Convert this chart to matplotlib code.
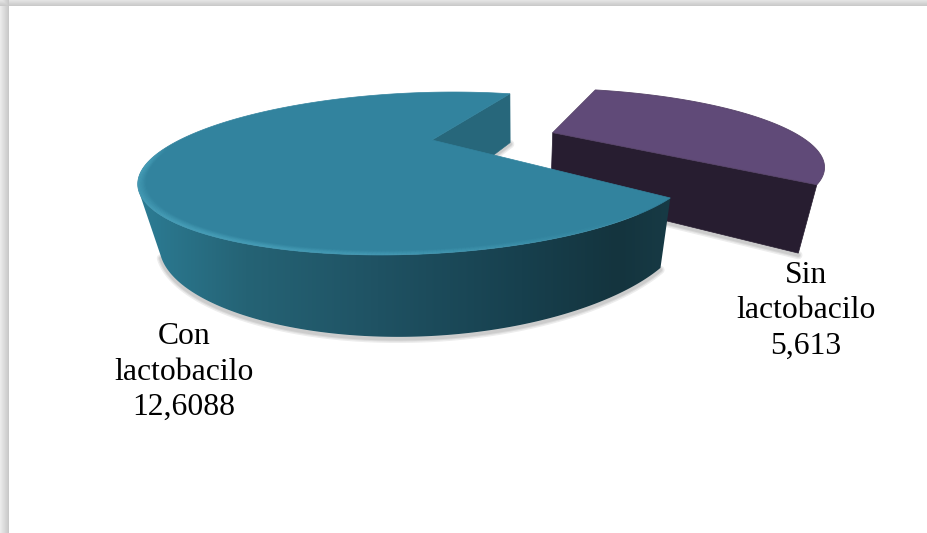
import numpy as np
import matplotlib
matplotlib.use('Agg')
import matplotlib.pyplot as plt
from matplotlib.collections import LineCollection
from matplotlib.colors import LinearSegmentedColormap, to_rgba
from matplotlib.patches import Polygon

plt.rcParams['font.family'] = ['Liberation Serif', 'DejaVu Serif']

# Data
categories = ['Con\nlactobacilo', 'Sin\nlactobacilo']
values = [12.6088, 5.613]
value_labels = ['12,6088', '5,613']

W, H = 928, 533

# 3D view of the pie: unit disc (u, v) -> pixels
CX, CY = 432.0, 140.0
A, S, B, K = 252.5, 30.2, 67.7, 0.411
VP = np.array([515.0, 1300.0])  # vertical edges converge here
DROP0, DROP1 = 24.0, 34.5
START_ANGLE = 71.6
EXPLODE = 0.50
EXPLODE_TILT = -3.0


def project(u, v):
    s = 1.0 / (1.0 + K * v)
    return np.column_stack((CX + (A * u + S * v) * s, CY - B * v * s))


def project_base(u, v, extra=0.0):
    top = project(u, v)
    s = 1.0 / (1.0 + K * v)
    d = VP - top
    d = d / np.linalg.norm(d, axis=1, keepdims=True)
    return top + d * (DROP0 + extra + DROP1 * s)[:, None]


def disc(t0, t1, off=(0.0, 0.0), n=200, r=1.0):
    t = np.radians(np.linspace(t0, t1, n))
    return r * np.cos(t) + off[0], r * np.sin(t) + off[1]


def soft_shadow(ax, pts, dy=2.0, dark=0.07):
    # stack of faint strokes, widest first
    for lw in [6, 4, 2.5]:
        ax.plot(pts[:, 0], pts[:, 1] + dy, color='black', alpha=dark, lw=lw,
                solid_capstyle='round', zorder=2)


def rim_highlight(ax, r, color, alpha, lw):
    # bevel running round the near rim, fading in at the left and out to the right
    u, v = disc(186.0, START_ANGLE + sweep_con - 8.0, n=220, r=r)
    pts = project(u, v)
    segs = np.stack((pts[:-1], pts[1:]), axis=1)
    x = np.linspace(0, 1, len(segs))
    rgba = np.tile(to_rgba(color), (len(segs), 1))
    rgba[:, 3] = alpha * np.clip(x / 0.1, 0, 1) * np.clip((1.0 - x) / 0.6, 0, 1)
    ax.add_collection(LineCollection(segs, colors=rgba, linewidths=lw, zorder=8, capstyle='butt'))


fig = plt.figure(figsize=(W / 100, H / 100), dpi=100)
ax = fig.add_axes([0, 0, 1, 1])

# Page shadow along the top and left of the white card
bg = np.ones((H, W))
for y in range(6):
    bg[y, :] = 0.89 - 0.02 * y
for x in range(9):
    bg[:, x] = np.minimum(bg[:, x], 0.92 - 0.017 * x)
ax.imshow(bg, cmap='gray', vmin=0, vmax=1, extent=(0, W, H, 0), aspect='auto', zorder=0,
          interpolation='nearest')

total = sum(values)
sweep_con = 360.0 * values[0] / total
sweep_sin = 360.0 * values[1] / total

# Sin lactobacilo slice, pulled out along its middle angle
mid = np.radians(START_ANGLE - sweep_sin / 2.0 + EXPLODE_TILT)
off = (EXPLODE * np.cos(mid), EXPLODE * np.sin(mid))
u, v = disc(START_ANGLE - sweep_sin, START_ANGLE, off)
apex_u, apex_v = np.array([off[0]]), np.array([off[1]])
rim = project(u, v)
apex = project(apex_u, apex_v)
front_top = np.vstack((apex, rim[:1]))
front_base = np.vstack((project_base(apex_u, apex_v, 3.0), project_base(u[:1], v[:1], 3.0)))
soft_shadow(ax, front_base)
ax.add_patch(Polygon(np.vstack((front_top, front_base[::-1])), closed=True, fc='#271d30',
                     ec='#271d30', lw=0.5, zorder=3))
ax.add_patch(Polygon(np.vstack((apex, rim)), closed=True, fc='#604a78', ec='#574369', lw=0.6,
                     zorder=4))

# Con lactobacilo slice
u, v = disc(START_ANGLE, START_ANGLE + sweep_con, n=500)
apex_u, apex_v = np.array([0.0]), np.array([0.0])
rim = project(u, v)
apex = project(apex_u, apex_v)

# cut wall visible in the notch
wall_base = np.vstack((project_base(u[:1], v[:1]), project_base(apex_u, apex_v)))
soft_shadow(ax, wall_base, dy=1.5)
ax.add_patch(Polygon(np.vstack((apex, rim[:1], wall_base)), closed=True, fc='#27677b',
                     ec='#27677b', lw=0.4, zorder=5))

# outer wall with a left to right shading
u_side, v_side = disc(215.0, START_ANGLE + sweep_con, n=300)
rim_side = project(u_side, v_side)
base_side = project_base(u_side, v_side)
soft_shadow(ax, base_side)
side_cmap = LinearSegmentedColormap.from_list('side', [
    (0.0, '#2c7c94'), (0.2, '#256375'), (0.45, '#1f5263'), (0.72, '#17404e'),
    (0.9, '#14343e'), (1.0, '#173a45')])
side_poly = Polygon(np.vstack((rim_side, base_side[::-1])), closed=True, fc='none', ec='none',
                    zorder=6)
ax.add_patch(side_poly)
x_span = (rim_side[:, 0].min(), rim_side[:, 0].max())
grad = ax.imshow(np.linspace(0, 1, 256)[None, :], cmap=side_cmap, aspect='auto',
                 extent=(x_span[0], x_span[1], 345, 170), zorder=6, interpolation='bilinear')
grad.set_clip_path(side_poly)

# top face
ax.add_patch(Polygon(np.vstack((apex, rim)), closed=True, fc='#32839e', ec='#32839e', lw=0.5,
                     zorder=7))
for r, a in zip(np.linspace(0.978, 0.998, 7), np.linspace(0.05, 0.6, 7)):
    rim_highlight(ax, r, '#4fa9c2', a, 1.0)

# Labels
ax.text(184, 372, categories[0] + '\n' + value_labels[0], ha='center', va='center', fontsize=22.8,
        color='black', linespacing=1.3, zorder=9)
ax.text(806, 311, categories[1] + '\n' + value_labels[1], ha='center', va='center', fontsize=22.8,
        color='black', linespacing=1.3, zorder=9)

ax.set_xlim(0, W)
ax.set_ylim(H, 0)
ax.axis('off')
fig.savefig('out.png', dpi=100)
